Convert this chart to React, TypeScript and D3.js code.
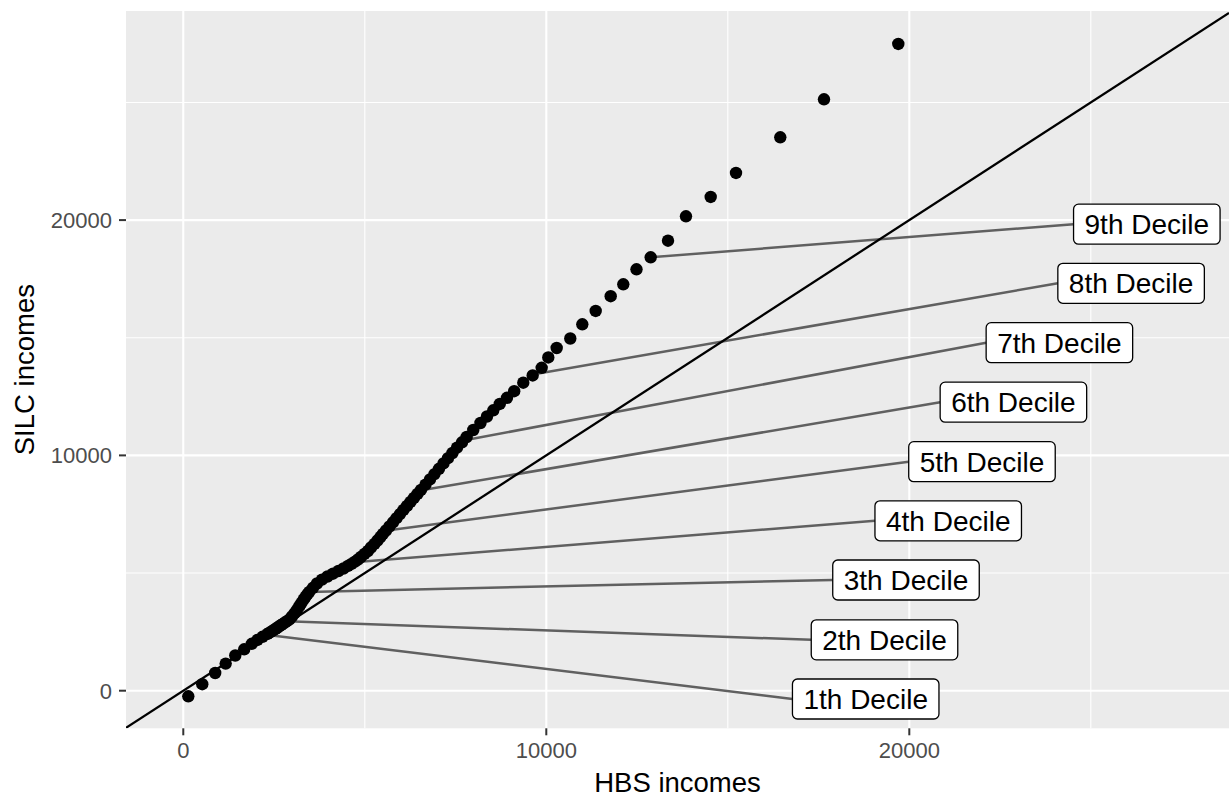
import React, { useEffect, useRef } from 'react';
import * as d3 from 'd3';

// Quantile pairs: HBS income quantile vs SILC income quantile
const hbsQuantiles = [
  138, 523, 879, 1168, 1432, 1678, 1887, 2044, 2182, 2320,
  2377, 2433, 2488, 2543, 2598, 2650, 2702, 2755, 2804, 2857,
  2926, 2994, 3063, 3132, 3196, 3256, 3314, 3366, 3416, 3471,
  3573, 3683, 3821, 3972, 4124, 4275, 4413, 4537, 4634, 4730,
  4813, 4895, 4992, 5088, 5171, 5267, 5350, 5433, 5501, 5584,
  5680, 5777, 5873, 5970, 6066, 6163, 6259, 6355, 6452, 6548,
  6672, 6796, 6920, 7044, 7168, 7292, 7416, 7540, 7678, 7807,
  7989, 8187, 8366, 8540, 8719, 8917, 9116, 9366, 9625, 9873,
  10055, 10286, 10661, 10992, 11361, 11774, 12121, 12485, 12876,
  13353, 13848, 14529, 15226, 16446, 17650, 19697,
];
const silcQuantiles = [
  -238, 276, 752, 1152, 1496, 1759, 1993, 2155, 2291, 2410,
  2465, 2520, 2575, 2631, 2686, 2741, 2796, 2852, 2903, 2954,
  3034, 3153, 3289, 3438, 3591, 3736, 3872, 3991, 4097, 4195,
  4373, 4556, 4722, 4853, 4972, 5087, 5193, 5300, 5385, 5482,
  5576, 5682, 5810, 5937, 6086, 6235, 6383, 6532, 6660, 6808,
  6978, 7157, 7331, 7505, 7680, 7850, 8020, 8190, 8360, 8530,
  8755, 8980, 9205, 9431, 9656, 9881, 10102, 10327, 10557, 10782,
  11079, 11377, 11653, 11917, 12185, 12448, 12729, 13090, 13396, 13723,
  14161, 14564, 14968, 15572, 16137, 16766, 17272, 17909, 18419,
  19125, 20162, 20982, 22002, 23519, 25134, 27484,
];

// Decile markers and where their labels sit
const decileNames = [
  '1th Decile', '2th Decile', '3th Decile', '4th Decile', '5th Decile',
  '6th Decile', '7th Decile', '8th Decile', '9th Decile',
];
const decileHbs = [2333, 2857, 3463, 4702, 5556, 6521, 7788, 9744, 12876];
const decileSilc = [2371, 2949, 4199, 5461, 6800, 8504, 10655, 13472, 18419];
const labelHbs = [18799, 19317, 19909, 21072, 22002, 22868, 24135, 26110, 26543];
const labelSilc = [-353, 2163, 4705, 7221, 9732, 12261, 14790, 17314, 19826];

const majorTicks = [0, 10000, 20000];
const minorTicks = [5000, 15000, 25000];
const xDomain = [-1578, 28807];
const yDomain = [-1598, 28886];

const W = 1229;
const H = 802;
const panel = { left: 126, top: 11, right: 1229, bottom: 728.3 };
const FONT = '"Liberation Sans", Arial, Helvetica, sans-serif';

export default function App() {
  const ref = useRef<SVGSVGElement>(null);

  useEffect(() => {
    const svg = d3.select(ref.current);
    svg.selectAll('*').remove();

    const x = d3.scaleLinear().domain(xDomain).range([panel.left, panel.right]);
    const y = d3.scaleLinear().domain(yDomain).range([panel.bottom, panel.top]);

    svg.append('defs').append('clipPath').attr('id', 'panel-clip')
      .append('rect')
      .attr('x', panel.left).attr('y', panel.top)
      .attr('width', panel.right - panel.left).attr('height', panel.bottom - panel.top);

    svg.append('rect')
      .attr('x', panel.left).attr('y', panel.top)
      .attr('width', panel.right - panel.left).attr('height', panel.bottom - panel.top)
      .attr('fill', '#EBEBEB');

    const grid = svg.append('g');
    minorTicks.forEach((t) => {
      grid.append('line')
        .attr('x1', x(t)).attr('x2', x(t)).attr('y1', panel.top).attr('y2', panel.bottom)
        .attr('stroke', '#fff').attr('stroke-width', 1.1);
      grid.append('line')
        .attr('y1', y(t)).attr('y2', y(t)).attr('x1', panel.left).attr('x2', panel.right)
        .attr('stroke', '#fff').attr('stroke-width', 1.1);
    });
    majorTicks.forEach((t) => {
      grid.append('line')
        .attr('x1', x(t)).attr('x2', x(t)).attr('y1', panel.top).attr('y2', panel.bottom)
        .attr('stroke', '#fff').attr('stroke-width', 2.1);
      grid.append('line')
        .attr('y1', y(t)).attr('y2', y(t)).attr('x1', panel.left).attr('x2', panel.right)
        .attr('stroke', '#fff').attr('stroke-width', 2.1);
    });

    const plot = svg.append('g').attr('clip-path', 'url(#panel-clip)');

    // label boxes measured first so segments can end at their left edge
    const labelLayer = svg.append('g');
    const boxes = decileNames.map((name, i) => {
      const g = labelLayer.append('g');
      const rect = g.append('rect');
      const text = g.append('text')
        .attr('x', x(labelHbs[i]))
        .attr('y', y(labelSilc[i]) + 10)
        .attr('text-anchor', 'middle')
        .attr('font-family', FONT)
        .attr('font-size', 28)
        .attr('fill', '#000')
        .text(name);
      const bb = (text.node() as SVGTextElement).getBBox();
      const bw = bb.width + 22;
      const bh = 40;
      const cx = x(labelHbs[i]);
      const cy = y(labelSilc[i]);
      rect.attr('x', cx - bw / 2).attr('y', cy - bh / 2)
        .attr('width', bw).attr('height', bh)
        .attr('rx', 5).attr('ry', 5)
        .attr('fill', '#fff').attr('stroke', '#000').attr('stroke-width', 1.3);
      return { left: cx - bw / 2, cy };
    });

    // connector segments
    decileNames.forEach((_, i) => {
      plot.append('line')
        .attr('x1', x(decileHbs[i])).attr('y1', y(decileSilc[i]))
        .attr('x2', boxes[i].left).attr('y2', boxes[i].cy)
        .attr('stroke', '#606060').attr('stroke-width', 2.5);
    });

    // quantile points
    plot.append('g').selectAll('circle')
      .data(hbsQuantiles.map((h, i) => [h, silcQuantiles[i]]))
      .join('circle')
      .attr('cx', (d) => x(d[0]))
      .attr('cy', (d) => y(d[1]))
      .attr('r', 6.2)
      .attr('fill', '#000');

    // 45 degree reference line
    plot.append('line')
      .attr('x1', x(xDomain[0])).attr('y1', y(xDomain[0]))
      .attr('x2', x(xDomain[1])).attr('y2', y(xDomain[1]))
      .attr('stroke', '#000').attr('stroke-width', 2.3);

    labelLayer.raise();

    // axes
    const axes = svg.append('g');
    majorTicks.forEach((t) => {
      axes.append('line')
        .attr('x1', x(t)).attr('x2', x(t)).attr('y1', panel.bottom).attr('y2', panel.bottom + 7)
        .attr('stroke', '#333').attr('stroke-width', 2);
      axes.append('text')
        .attr('x', x(t)).attr('y', 758)
        .attr('text-anchor', 'middle')
        .attr('font-family', FONT).attr('font-size', 22).attr('fill', '#4D4D4D')
        .text(String(t));
      axes.append('line')
        .attr('y1', y(t)).attr('y2', y(t)).attr('x1', panel.left - 7).attr('x2', panel.left)
        .attr('stroke', '#333').attr('stroke-width', 2);
      axes.append('text')
        .attr('x', 112).attr('y', y(t) + 8)
        .attr('text-anchor', 'end')
        .attr('font-family', FONT).attr('font-size', 22).attr('fill', '#4D4D4D')
        .text(String(t));
    });

    axes.append('text')
      .attr('x', (panel.left + panel.right) / 2).attr('y', 792)
      .attr('text-anchor', 'middle')
      .attr('font-family', FONT).attr('font-size', 27.5).attr('fill', '#000')
      .text('HBS incomes');

    axes.append('text')
      .attr('transform', `translate(34, ${(panel.top + panel.bottom) / 2}) rotate(-90)`)
      .attr('text-anchor', 'middle')
      .attr('font-family', FONT).attr('font-size', 27.5).attr('fill', '#000')
      .text('SILC incomes');
  }, []);

  return (
    <svg
      ref={ref}
      width={W}
      height={H}
      style={{ position: 'absolute', left: 0, top: 0, background: '#fff' }}
    />
  );
}
